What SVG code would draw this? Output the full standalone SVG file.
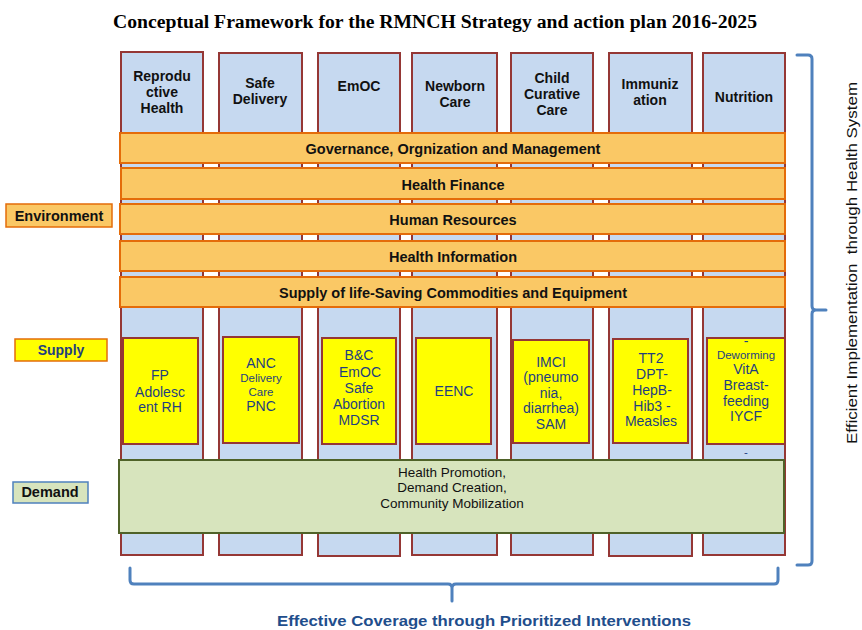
<svg xmlns="http://www.w3.org/2000/svg" width="862" height="630" viewBox="0 0 862 630">
<style>
text{font-family:"Liberation Sans",Arial,sans-serif;text-anchor:middle}
.col{fill:#C6D9F0;stroke:#953735;stroke-width:2}
.hdr{font-weight:bold;font-size:14px;fill:#111}
.bar{fill:#FAC865;stroke:#E46C0A;stroke-width:2}
.bt{font-weight:bold;font-size:14.5px;fill:#111}
.yb{fill:#FFFF00;stroke:#953735;stroke-width:2}
.yt{font-size:14px;fill:#1F3F7F}
.ys{font-size:11.5px;fill:#1F3F7F}
.dt{font-size:13.5px;fill:#111}
.brace{fill:none;stroke:#4F81BD;stroke-width:3;stroke-linecap:round;stroke-linejoin:round}
</style>
<rect width="862" height="630" fill="#fff"/>
<text x="435" y="28" font-weight="bold" font-size="18" textLength="644" lengthAdjust="spacingAndGlyphs" fill="#000" style="font-family:'Liberation Serif',serif">Conceptual Framework for the RMNCH Strategy and action plan 2016-2025</text>

<g id="col-rh"><rect class="col" x="121" y="52" width="82" height="503"/><text class="hdr" x="162" y="81">Reprodu</text><text class="hdr" x="162" y="97">ctive</text><text class="hdr" x="162" y="113">Health</text></g>
<g id="col-sd"><rect class="col" x="219" y="53" width="83" height="502"/><text class="hdr" x="260" y="88">Safe</text><text class="hdr" x="260" y="104">Delivery</text></g>
<g id="col-emoc"><rect class="col" x="318" y="53" width="82" height="503"/><text class="hdr" x="359" y="91">EmOC</text></g>
<g id="col-nb"><rect class="col" x="412" y="53" width="85" height="502"/><text class="hdr" x="455" y="91">Newborn</text><text class="hdr" x="455" y="107">Care</text></g>
<g id="col-cc"><rect class="col" x="511" y="53" width="82" height="502"/><text class="hdr" x="552" y="83">Child</text><text class="hdr" x="552" y="99">Curative</text><text class="hdr" x="552" y="115">Care</text></g>
<g id="col-imm"><rect class="col" x="609" y="53" width="83" height="503"/><text class="hdr" x="650" y="89">Immuniz</text><text class="hdr" x="650" y="105">ation</text></g>
<g id="col-nut"><rect class="col" x="703" y="53" width="82" height="502"/><text class="hdr" x="744" y="102">Nutrition</text></g>

<g id="bar-gov"><rect class="bar" x="120" y="133" width="665" height="30"/><text class="bt" x="453" y="154">Governance, Orgnization and Management</text></g>
<g id="bar-fin"><rect class="bar" x="121" y="168" width="664" height="31"/><text class="bt" x="453" y="190">Health Finance</text></g>
<g id="bar-hr"><rect class="bar" x="120" y="204" width="665" height="30"/><text class="bt" x="453" y="225">Human Resources</text></g>
<g id="bar-hi"><rect class="bar" x="120" y="241" width="665" height="30"/><text class="bt" x="453" y="262">Health Information</text></g>
<g id="bar-sup"><rect class="bar" x="120" y="277" width="665" height="30"/><text class="bt" x="453" y="298">Supply of life-Saving Commodities and Equipment</text></g>

<g id="lbl-env"><rect x="6" y="204" width="106" height="23" fill="#FAC865" stroke="#E46C0A" stroke-width="1.5"/><text class="bt" x="59" y="221">Environment</text></g>
<g id="lbl-supply"><rect x="15" y="339" width="92" height="22" fill="#FFFF00" stroke="#E46C0A" stroke-width="1.5"/><text x="61" y="355" font-size="14" font-weight="bold" fill="#1F3F7F">Supply</text></g>
<g id="lbl-demand"><rect x="13" y="482" width="75" height="21" fill="#D7E4BD" stroke="#4F81BD" stroke-width="1.5"/><text class="bt" x="50" y="497">Demand</text></g>

<g id="int-rh"><rect class="yb" x="123" y="338" width="75" height="106"/><text class="yt" x="160" y="380">FP</text><text class="yt" x="160" y="397">Adolesc</text><text class="yt" x="160" y="412">ent RH</text></g>
<g id="int-sd"><rect class="yb" x="223" y="337" width="76" height="106"/><text class="yt" x="261" y="368">ANC</text><text class="ys" x="261" y="382">Delivery</text><text class="ys" x="261" y="396">Care</text><text class="yt" x="261" y="411">PNC</text></g>
<g id="int-emoc"><rect class="yb" x="322" y="338" width="74" height="106"/><text class="yt" x="359" y="360">B&amp;C</text><text class="yt" x="360" y="377">EmOC</text><text class="yt" x="359" y="393">Safe</text><text class="yt" x="359" y="409">Abortion</text><text class="yt" x="359" y="425">MDSR</text></g>
<g id="int-nb"><rect class="yb" x="416" y="338" width="75" height="106"/><text class="yt" x="454" y="396">EENC</text></g>
<g id="int-cc"><rect class="yb" x="513" y="340" width="76" height="103"/><text class="yt" x="551" y="367">IMCI</text><text class="yt" x="551" y="382">(pneumo</text><text class="yt" x="551" y="398">nia,</text><text class="yt" x="551" y="413">diarrhea)</text><text class="yt" x="551" y="429">SAM</text></g>
<g id="int-imm"><rect class="yb" x="613" y="339" width="75" height="104"/><text class="yt" x="651" y="363">TT2</text><text class="yt" x="652" y="379">DPT-</text><text class="yt" x="652" y="395">HepB-</text><text class="yt" x="652" y="411">Hib3 -</text><text class="yt" x="651" y="426">Measles</text></g>
<g id="int-nut"><rect class="yb" x="707" y="338" width="78" height="106"/><text class="yt" x="746" y="346">-</text><text class="ys" x="746" y="359">Deworming</text><text class="yt" x="746" y="374">VitA</text><text class="yt" x="746" y="390">Breast-</text><text class="yt" x="746" y="406">feeding</text><text class="yt" x="746" y="421">IYCF</text><text class="ys" x="746" y="456">-</text></g>

<g id="demand-box"><rect x="119" y="460" width="665" height="73" fill="#D7E4BD" stroke="#4F6228" stroke-width="2"/><text class="dt" x="452" y="477">Health Promotion,</text><text class="dt" x="452" y="492">Demand Creation,</text><text class="dt" x="452" y="508">Community Mobilization</text></g>

<g id="connectors">
<path class="brace" d="M130 568 V580 Q130 584 134 584 H448 Q452 584 452 588 V601 M452 588 Q452 584 456 584 H774 Q778 584 778 580 V568"/>
<path class="brace" d="M797 55 H808 Q812 55 812 59 V306 Q812 310 816 310 H826 M816 310 Q812 310 812 314 V561 Q812 565 808 565 H797"/>
</g>

<text x="0" y="0" transform="translate(857 263) rotate(-90)" font-size="15" fill="#111" textLength="362" lengthAdjust="spacingAndGlyphs" xml:space="preserve">Efficient Implementation  through Health System</text>
<text x="484" y="626" font-size="15" font-weight="bold" fill="#1F4E8C" textLength="414" lengthAdjust="spacingAndGlyphs">Effective Coverage through Prioritized Interventions</text>
</svg>
